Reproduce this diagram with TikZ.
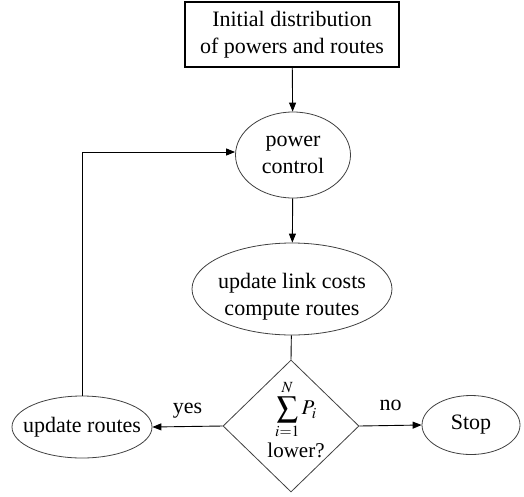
\documentclass[tikz,border=0pt]{standalone}
\usepackage{mathptmx}
\usepackage{fontspec}
\setmainfont{Liberation Serif}
\usetikzlibrary{shapes.geometric,arrows.meta}
\begin{document}
\begin{tikzpicture}[x=1pt,y=-1pt,
  txt/.style={font=\fontsize{22}{27}\selectfont, align=center, inner sep=0pt},
  ell/.style={ellipse, draw=black!75, line width=0.8pt, inner sep=0pt},
  arr/.style={line width=0.9pt, -{Triangle[length=9pt,width=7pt]}},
  ln/.style={line width=0.9pt}]
\useasboundingbox (0,0) rectangle (524,496);
% start box
\node[draw, line width=1.4pt, minimum width=214, minimum height=65, inner sep=0pt] (init) at (292,34.5) {};
\node[txt] (inittxt) at (init) {Initial distribution\\of powers and routes};
% power control
\node[ell, minimum width=115, minimum height=86] (pc) at (293,155) {};
\node[txt] (pctxt) at (pc) {power\\control};
% update link costs
\node[ell, minimum width=200, minimum height=92] (ulc) at (292,289) {};
\node[txt] (ulctxt) at (292,297) {update link costs\\compute routes};
% decision
\node[diamond, draw=black!75, line width=0.8pt, minimum width=136, minimum height=132, inner sep=0pt] (dec) at (291,426) {};
\node[txt, font=\fontsize{21}{26}\selectfont] (dectxt) at (296,419) {$\displaystyle\sum_{i=1}^{N} P_i$\\[3pt]lower?};
% update routes
\node[ell, minimum width=140, minimum height=62] (ur) at (82,427) {};
\node[txt] (urtxt) at (ur) {update routes};
% stop
\node[ell, minimum width=98, minimum height=59] (stop) at (471,425) {};
\node[txt] (stoptxt) at (stop) {Stop};
% connectors
\draw[arr] (init) -- (pc);
\draw[arr] (pc) -- (ulc);
\draw[ln] (ulc) -- (dec.north);
\draw[arr] (dec.west) -- node[txt, above=8pt] (yes) {yes} (ur.east);
\draw[arr] (dec.east) -- node[txt, above=14pt] (no) {no} (stop.west);
\draw[arr] (ur.north) -- (ur.north |- 0,152) -- (pc.west |- 0,152);
\end{tikzpicture}
\end{document}
